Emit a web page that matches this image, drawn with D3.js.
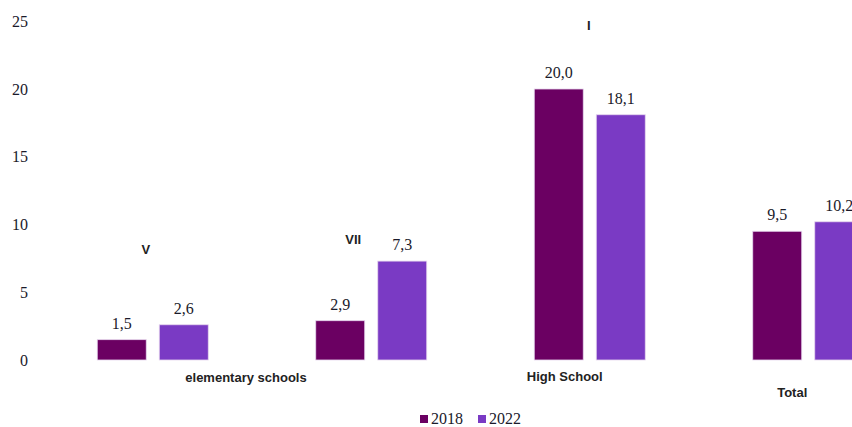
<!DOCTYPE html>
<html>
<head>
<meta charset="utf-8">
<script src="https://cdn.jsdelivr.net/npm/d3@7/dist/d3.min.js"></script>
<style>
  body { margin: 0; background: #fff; }
  svg { display: block; }
</style>
</head>
<body>
<div id="chart"></div>
<script>
// chart data
var groups = ["V", "VII", "I", "Total"];
var series = ["2018", "2022"];
var values2018 = [1.5, 2.9, 20.0, 9.5];
var values2022 = [2.6, 7.3, 18.1, 10.2];
var yTicks = [0, 5, 10, 15, 20, 25];
var levelLabels = ["elementary schools", "High School", "Total"];

var svgWidth = 852;
var svgHeight = 427;

var colors = { "2018": "#6b0062", "2022": "#7a3ac4" };

var svg = d3.select("#chart")
  .append("svg")
  .attr("width", svgWidth)
  .attr("height", svgHeight);

// x band for the groups (last group runs past the right edge)
var xScale = d3.scaleBand()
  .domain(groups)
  .range([43.5, 917.5])
  .paddingInner(0)
  .paddingOuter(0);

var xInner = d3.scaleBand()
  .domain(series)
  .range([0, 111])
  .paddingInner(0.21)
  .paddingOuter(0);

var yScale = d3.scaleLinear()
  .domain([0, 25])
  .range([360, 21.25]);

// y axis labels only
var yAxis = d3.axisLeft(yScale)
  .tickValues(yTicks)
  .tickSize(0)
  .tickPadding(0);

var yG = svg.append("g")
  .attr("transform", "translate(28,0)")
  .call(yAxis);
yG.select(".domain").remove();
yG.selectAll("text")
  .attr("font-family", "'Liberation Serif', 'Times New Roman', serif")
  .attr("font-size", 16)
  .attr("fill", "#1a1a2a");

// bar rows
var rows = groups.map(function (g, i) {
  return { group: g, vals: [values2018[i], values2022[i]] };
});

var groupG = svg.selectAll(".grp")
  .data(rows)
  .enter()
  .append("g")
  .attr("class", "grp")
  .attr("transform", function (d) {
    return "translate(" + (xScale(d.group) + xScale.bandwidth() / 2 - 55.5) + ",0)";
  });

var bars = groupG.selectAll(".bar")
  .data(function (d) {
    return d.vals.map(function (v, j) { return { key: series[j], value: v }; });
  })
  .enter();

bars.append("rect")
  .attr("x", function (d) { return xInner(d.key); })
  .attr("y", function (d) { return yScale(d.value); })
  .attr("width", xInner.bandwidth())
  .attr("height", function (d) { return yScale(0) - yScale(d.value); })
  .attr("fill", function (d) { return colors[d.key]; })
  .attr("stroke", "#e6d6ee")
  .attr("stroke-width", 0.8);

bars.append("text")
  .attr("x", function (d) { return xInner(d.key) + xInner.bandwidth() / 2; })
  .attr("y", function (d) { return yScale(d.value) - 11; })
  .attr("text-anchor", "middle")
  .attr("font-family", "'Liberation Serif', 'Times New Roman', serif")
  .attr("font-size", 16)
  .attr("fill", "#1a1a2a")
  .text(function (d) { return d.value.toFixed(1).replace(".", ","); });

// category labels (placed oddly, as in the source chart)
var catOffsets = [
  { dx: -7, v: 8.1 },
  { dx: -18, v: 8.85 },
  { dx: -1, v: 24.6 },
  null
];
var sansFont = "'Liberation Sans', Arial, sans-serif";

groups.forEach(function (g, i) {
  var o = catOffsets[i];
  if (!o) return;
  svg.append("text")
    .attr("x", xScale(g) + xScale.bandwidth() / 2 + o.dx)
    .attr("y", yScale(o.v))
    .attr("text-anchor", "middle")
    .attr("dominant-baseline", "middle")
    .attr("font-family", sansFont)
    .attr("font-size", 13)
    .attr("font-weight", "bold")
    .attr("fill", "#222")
    .text(g);
});

// second level labels
var levelPos = [
  { x: (xScale("V") + xScale("VII") + xScale.bandwidth()) / 2 - 16, y: 382 },
  { x: xScale("I") + xScale.bandwidth() / 2 - 25, y: 381 },
  { x: xScale("Total") + xScale.bandwidth() / 2 - 16, y: 397 }
];
levelLabels.forEach(function (t, i) {
  svg.append("text")
    .attr("x", levelPos[i].x)
    .attr("y", levelPos[i].y)
    .attr("text-anchor", "middle")
    .attr("font-family", sansFont)
    .attr("font-size", 13)
    .attr("font-weight", "bold")
    .attr("fill", "#222")
    .text(t);
});

// legend
var legend = svg.append("g")
  .attr("transform", "translate(420,415)");
var legendItem = legend.selectAll(".leg")
  .data(series)
  .enter()
  .append("g")
  .attr("transform", function (d, i) { return "translate(" + (i * 58) + ",0)"; });
legendItem.append("rect")
  .attr("width", 8)
  .attr("height", 8)
  .attr("fill", function (d) { return colors[d]; });
legendItem.append("text")
  .attr("x", 11)
  .attr("y", 9)
  .attr("font-family", "'Liberation Serif', 'Times New Roman', serif")
  .attr("font-size", 16)
  .attr("fill", "#1a1a2a")
  .text(function (d) { return d; });
</script>
</body>
</html>
